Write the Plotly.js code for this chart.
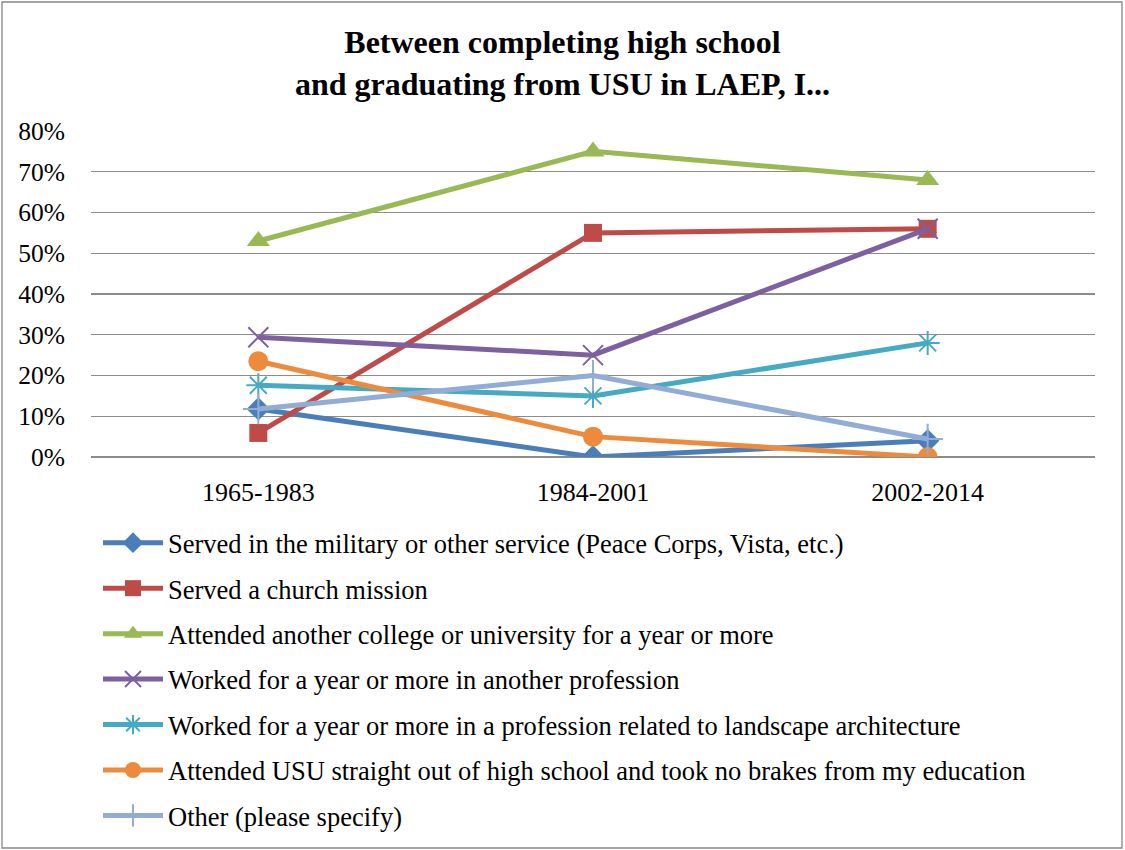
<!DOCTYPE html>
<html>
<head>
<meta charset="utf-8">
<script src="https://cdn.plot.ly/plotly-3.0.1.min.js"></script>
<style>body{margin:0;background:#fff}#chart{width:1125px;height:850px}</style>
</head>
<body>
<div id="chart"></div>
<script>
const categories = ["1965-1983", "1984-2001", "2002-2014"];
const seriesNames = [
  "Served in the military or other service (Peace Corps, Vista, etc.)",
  "Served a church mission",
  "Attended another college or university for a year or more",
  "Worked for a year or more in another profession",
  "Worked for a year or more in a profession related to landscape architecture",
  "Attended USU straight out of high school and took no brakes from my education",
  "Other (please specify)"
];
const military = [11.8, 0, 4.0];
const church = [5.9, 55, 56];
const college = [53, 75, 68];
const otherProfession = [29.4, 25, 56];
const landscape = [17.6, 15, 28];
const straight = [23.5, 5, 0];
const other = [11.8, 20, 4.4];
const yTicks = [0, 10, 20, 30, 40, 50, 60, 70, 80];

const seriesValues = [military, church, college, otherProfession, landscape, straight, other];
const colors = ["#4A7EBB", "#BE4B48", "#98B954", "#7D60A0", "#46AAC5", "#EE8A3C", "#93ACD6"];
const symbols = ["diamond", "square", "triangle-up", "x-thin", "asterisk-open", "circle", "cross-thin"];
const sizes = [18, 18, 20, 20, 20, 20, 22];

const W = 1125, H = 850;
const m = {l: 91, r: 30, t: 131, b: 393, autoexpand: false};
const pw = W - m.l - m.r, ph = H - m.t - m.b;
const FONT = "Liberation Serif";

const traces = seriesValues.map((vals, i) => {
  const thin = symbols[i].indexOf("thin") >= 0 || symbols[i].indexOf("open") >= 0;
  return {
    x: categories, y: vals, name: seriesNames[i], type: "scatter", mode: "lines+markers",
    line: {color: colors[i], width: 5},
    marker: {symbol: symbols[i], size: sizes[i], color: colors[i],
             line: {color: colors[i], width: thin ? 2 : 0}},
    legendgroup: "g" + i
  };
});

const layout = {
  width: W, height: H, margin: m,
  paper_bgcolor: "#fff", plot_bgcolor: "#fff",
  font: {family: FONT, size: 26, color: "#000"},
  title: {text: "<b>Between completing high school<br>and graduating from USU in LAEP, I...</b>",
          font: {size: 32, family: FONT, color: "#000"},
          x: 0.5, xref: "container", xanchor: "center", y: 1 - 53 / H, yanchor: "middle"},
  xaxis: {type: "category", range: [-0.5, 2.5], showgrid: false, zeroline: false,
          showline: false, ticks: "", ticklabelstandoff: 17, tickfont: {size: 26, family: FONT}},
  yaxis: {range: [0, 80], tickvals: yTicks, ticktext: yTicks.map(v => v + "%"),
          showgrid: true, gridcolor: "#8c8c8c", gridwidth: 1.3, zeroline: true,
          zerolinecolor: "#8c8c8c", zerolinewidth: 1.3, showline: false, ticks: "",
          ticklabelstandoff: 25, tickfont: {size: 25.5, family: FONT}},
  showlegend: true,
  legend: {x: (98 - m.l) / pw, xanchor: "left", y: (457 - 519) / ph, yanchor: "top",
           orientation: "v", font: {size: 26.5, family: FONT}, tracegroupgap: 8, itemwidth: 60,
           bgcolor: "rgba(0,0,0,0)", traceorder: "grouped"},
  shapes: [{type: "rect", xref: "paper", yref: "paper",
            x0: (2 - m.l) / pw, x1: (1122 - m.l) / pw,
            y0: (H - m.b - 848) / ph, y1: (H - m.b - 2) / ph,
            line: {color: "#868686", width: 1.3}, fillcolor: "rgba(0,0,0,0)", layer: "below"}]
};

Plotly.newPlot("chart", traces, layout, {displayModeBar: false, staticPlot: true});
</script>
</body>
</html>
